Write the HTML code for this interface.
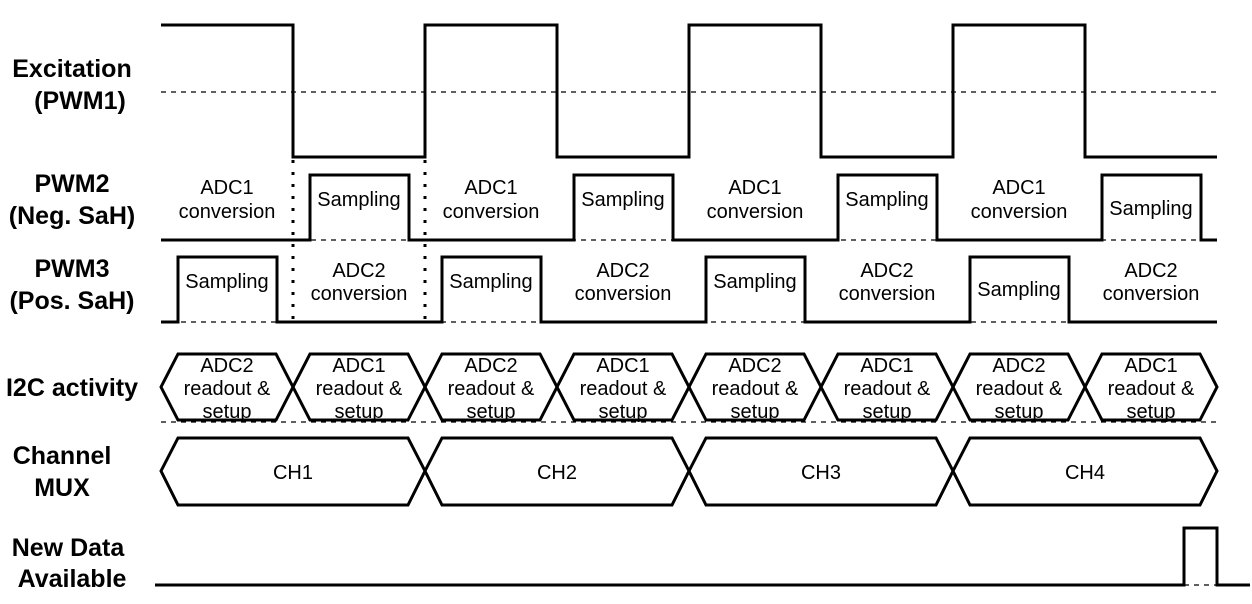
<!DOCTYPE html>
<html><head><style>body{margin:0;background:#fff}svg{display:block}</style></head><body>
<svg width="1252" height="604" xmlns="http://www.w3.org/2000/svg" font-family="Liberation Sans, Arial, sans-serif">
<g font-weight="bold" font-size="25" text-anchor="middle" fill="#000">
<text x="72" y="77">Excitation</text><text x="80" y="109">(PWM1)</text>
<text x="72" y="192">PWM2</text><text x="72" y="224">(Neg. SaH)</text>
<text x="72" y="277">PWM3</text><text x="72" y="309">(Pos. SaH)</text>
<text x="72" y="396">I2C activity</text>
<text x="62" y="464">Channel</text><text x="62" y="496">MUX</text>
<text x="68" y="556">New Data</text><text x="72" y="587">Available</text>
</g>
<g stroke="#000" fill="none">
<g stroke-dasharray="5,5" stroke-width="1.2">
<line x1="161" y1="92" x2="1217" y2="92"/>
<line x1="161" y1="240" x2="1217" y2="240"/>
<line x1="161" y1="322" x2="1217" y2="322"/>
<line x1="161" y1="422" x2="1217" y2="422"/>
<line x1="1184" y1="585" x2="1217" y2="585"/>
</g>
<g stroke-dasharray="3,9" stroke-width="3" stroke-linecap="butt">
<line x1="293" y1="160" x2="293" y2="322"/><line x1="425" y1="160" x2="425" y2="322"/>
</g>
<g stroke-width="3">
<polyline points="161,25 293,25 293,157 425,157 425,25 557,25 557,157 689,157 689,25 821,25 821,157 953,157 953,25 1085,25 1085,157 1217,157"/>
<polyline points="161,240 310,240 310,175 409,175 409,240 574,240 574,175 673,175 673,240 838,240 838,175 937,175 937,240 1102,240 1102,175 1201,175 1201,240 1217,240"/>
<polyline points="161,322 178,322 178,257 277,257 277,322 442,322 442,257 541,257 541,322 706,322 706,257 805,257 805,322 970,322 970,257 1069,257 1069,322 1217,322"/>
<polyline points="155,585 1184,585 1184,528 1217,528 1217,585 1250,585"/>
<polygon points="161,387 178,354 276,354 293,387 276,420 178,420"/>
<polygon points="293,387 310,354 408,354 425,387 408,420 310,420"/>
<polygon points="425,387 442,354 540,354 557,387 540,420 442,420"/>
<polygon points="557,387 574,354 672,354 689,387 672,420 574,420"/>
<polygon points="689,387 706,354 804,354 821,387 804,420 706,420"/>
<polygon points="821,387 838,354 936,354 953,387 936,420 838,420"/>
<polygon points="953,387 970,354 1068,354 1085,387 1068,420 970,420"/>
<polygon points="1085,387 1102,354 1200,354 1217,387 1200,420 1102,420"/>
<polygon points="161,471 178,438 408,438 425,471 408,505 178,505"/>
<polygon points="425,471 442,438 672,438 689,471 672,505 442,505"/>
<polygon points="689,471 706,438 936,438 953,471 936,505 706,505"/>
<polygon points="953,471 970,438 1200,438 1217,471 1200,505 970,505"/>
</g></g>
<g font-size="20" text-anchor="middle" fill="#000">
<text x="227" y="194">ADC1</text><text x="227" y="218">conversion</text>
<text x="491" y="194">ADC1</text><text x="491" y="218">conversion</text>
<text x="755" y="194">ADC1</text><text x="755" y="218">conversion</text>
<text x="1019" y="194">ADC1</text><text x="1019" y="218">conversion</text>
<text x="359" y="206">Sampling</text><text x="623" y="206">Sampling</text><text x="887" y="206">Sampling</text><text x="1151" y="215">Sampling</text>
<text x="227" y="288">Sampling</text><text x="491" y="288">Sampling</text><text x="755" y="288">Sampling</text><text x="1019" y="296">Sampling</text>
<text x="359" y="277">ADC2</text><text x="359" y="300">conversion</text>
<text x="623" y="277">ADC2</text><text x="623" y="300">conversion</text>
<text x="887" y="277">ADC2</text><text x="887" y="300">conversion</text>
<text x="1151" y="277">ADC2</text><text x="1151" y="300">conversion</text>
</g>
<g font-size="20" text-anchor="middle" fill="#000">
<g><text x="227" y="372">ADC2</text><text x="227" y="395">readout &amp;</text><text x="227" y="418">setup</text></g>
<g><text x="359" y="372">ADC1</text><text x="359" y="395">readout &amp;</text><text x="359" y="418">setup</text></g>
<g><text x="491" y="372">ADC2</text><text x="491" y="395">readout &amp;</text><text x="491" y="418">setup</text></g>
<g><text x="623" y="372">ADC1</text><text x="623" y="395">readout &amp;</text><text x="623" y="418">setup</text></g>
<g><text x="755" y="372">ADC2</text><text x="755" y="395">readout &amp;</text><text x="755" y="418">setup</text></g>
<g><text x="887" y="372">ADC1</text><text x="887" y="395">readout &amp;</text><text x="887" y="418">setup</text></g>
<g><text x="1019" y="372">ADC2</text><text x="1019" y="395">readout &amp;</text><text x="1019" y="418">setup</text></g>
<g><text x="1151" y="372">ADC1</text><text x="1151" y="395">readout &amp;</text><text x="1151" y="418">setup</text></g>
<text x="293" y="479">CH1</text><text x="557" y="479">CH2</text><text x="821" y="479">CH3</text><text x="1085" y="479">CH4</text>
</g>
</svg>
</body></html>
